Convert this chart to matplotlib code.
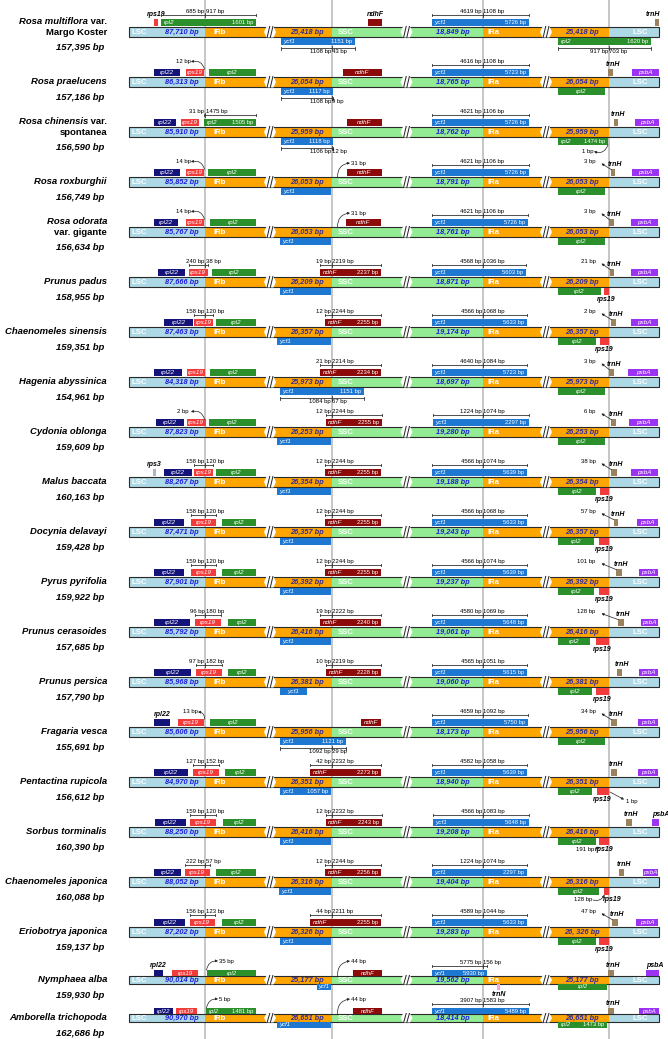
import matplotlib
matplotlib.use('Agg')
import matplotlib.pyplot as plt
from matplotlib.patches import Rectangle, Polygon

plt.rcParams['font.family'] = ['Liberation Sans', 'DejaVu Sans']

# ---------------- data ----------------
# species name lines: list of (text, italic) pieces
NAMES = [
    [[('Rosa multiflora', True), (' var.', False)], [('Margo Koster', False)]],
    [[('Rosa praelucens', True)]],
    [[('Rosa chinensis', True), (' var.', False)], [('spontanea', False)]],
    [[('Rosa roxburghii', True)]],
    [[('Rosa odorata', True)], [('var. gigante', False)]],
    [[('Prunus padus', True)]],
    [[('Chaenomeles sinensis', True)]],
    [[('Hagenia abyssinica', True)]],
    [[('Cydonia oblonga', True)]],
    [[('Malus baccata', True)]],
    [[('Docynia delavayi', True)]],
    [[('Pyrus pyrifolia', True)]],
    [[('Prunus cerasoides', True)]],
    [[('Prunus persica', True)]],
    [[('Fragaria vesca', True)]],
    [[('Pentactina rupicola', True)]],
    [[('Sorbus torminalis', True)]],
    [[('Chaenomeles japonica', True)]],
    [[('Eriobotrya japonica', True)]],
    [[('Nymphaea alba', True)]],
    [[('Amborella trichopoda', True)]],
]
GENOME_BP = [157395, 157186, 156590, 156749, 156634, 158955, 159351, 154961, 159609, 160163,
             159428, 159922, 157685, 157790, 155691, 156612, 160390, 160088, 159137, 159930, 162686]
LSC_BP = [87710, 86313, 85910, 85852, 85767, 87666, 87463, 84318, 87823, 88267,
          87471, 87901, 85792, 85968, 85606, 84970, 88250, 88052, 87202, 90014, 90970]
IR_BP = [25418, 26054, 25959, 26053, 26053, 26209, 26357, 25973, 26253, 26354,
         26357, 26392, 26416, 26381, 25956, 26351, 26416, 26316, 26326, 25177, 26651]
SSC_BP = [18849, 18765, 18762, 18791, 18761, 18871, 19174, 18697, 19280, 19188,
          19243, 19237, 19061, 19060, 18173, 18940, 19208, 19404, 19283, 19562, 18414]
IRA_TEXT = {18: '26, 326 bp'}

# genes per row: (gene, start, end, side, size text, label: i=inside a=above b=below)
GENES = [
    [('rps19', 154, 158, 'u', '', 'a'), ('rpl2', 161, 256, 'u', '1601 bp', 'i'), ('ndhF', 368, 382, 'u', '', 'a'),
     ('ycf1', 432, 529, 'u', '5726 bp', 'i'), ('trnH', 655, 659, 'u', '', 'a'),
     ('ycf1', 281, 355, 'd', '1151 bp', 'i'), ('rpl2', 558, 651, 'd', '1620 bp', 'i')],
    [('rpl22', 154, 180, 'u', '', 'i'), ('rps19', 186, 204, 'u', '', 'i'), ('rpl2', 209, 256, 'u', '', 'i'),
     ('ndhF', 343, 382, 'u', '', 'i'), ('ycf1', 432, 529, 'u', '5723 bp', 'i'), ('trnH', 608, 613, 'u', '', 'a'),
     ('psbA', 632, 659, 'u', '', 'i'), ('ycf1', 281, 333, 'd', '1117 bp', 'i'), ('rpl2', 558, 605, 'd', '', 'i')],
    [('rpl22', 154, 176, 'u', '', 'i'), ('rps19', 181, 199, 'u', '', 'i'), ('rpl2', 204, 256, 'u', '1505 bp', 'i'),
     ('ndhF', 347, 382, 'u', '', 'i'), ('ycf1', 432, 529, 'u', '5726 bp', 'i'), ('trnH', 614, 618, 'u', '', 'a'),
     ('psbA', 635, 659, 'u', '', 'i'), ('ycf1', 281, 333, 'd', '1118 bp', 'i'), ('rpl2', 558, 608, 'd', '1474 bp', 'i')],
    [('rpl22', 154, 180, 'u', '', 'i'), ('rps19', 186, 204, 'u', '', 'i'), ('rpl2', 208, 256, 'u', '', 'i'),
     ('ndhF', 347, 382, 'u', '', 'i'), ('ycf1', 432, 529, 'u', '5726 bp', 'i'), ('trnH', 611, 615, 'u', '', 'a'),
     ('psbA', 632, 659, 'u', '', 'i'), ('ycf1', 281, 331, 'd', '', 'i'), ('rpl2', 558, 605, 'd', '', 'i')],
    [('rpl22', 154, 178, 'u', '', 'i'), ('rps19', 186, 204, 'u', '', 'i'), ('rpl2', 210, 256, 'u', '', 'i'),
     ('ndhF', 346, 381, 'u', '', 'i'), ('ycf1', 432, 528, 'u', '5726 bp', 'i'), ('trnH', 609, 614, 'u', '', 'a'),
     ('psbA', 631, 658, 'u', '', 'i'), ('ycf1', 280, 331, 'd', '', 'i'), ('rpl2', 558, 605, 'd', '', 'i')],
    [('rpl22', 158, 185, 'u', '', 'i'), ('rps19', 189, 207.5, 'u', '', 'i'), ('rpl2', 212, 256, 'u', '', 'i'),
     ('ndhF', 320, 381, 'u', '2237 bp', 'i'), ('ycf1', 432, 526, 'u', '5603 bp', 'i'), ('trnH', 610, 614, 'u', '', 'a'),
     ('psbA', 631, 658, 'u', '', 'i'), ('ycf1', 280, 331, 'd', '', 'i'), ('rpl2', 558, 601, 'd', '', 'i'),
     ('rps19', 604, 608.5, 'd', '', 'b')],
    [('rpl22', 164, 193, 'u', '', 'i'), ('rps19', 194, 213, 'u', '', 'i'), ('rpl2', 216, 256, 'u', '', 'i'),
     ('ndhF', 325, 381, 'u', '2255 bp', 'i'), ('ycf1', 432, 527, 'u', '5633 bp', 'i'), ('trnH', 611, 616, 'u', '', 'a'),
     ('psbA', 631, 658, 'u', '', 'i'), ('ycf1', 277, 331, 'd', '', 'i'), ('rpl2', 558, 596, 'd', '', 'i'),
     ('rps19', 600, 608.5, 'd', '', 'b')],
    [('rpl22', 154, 182, 'u', '', 'i'), ('rps19', 187, 205, 'u', '', 'i'), ('rpl2', 210, 256, 'u', '', 'i'),
     ('ndhF', 320, 381, 'u', '2234 bp', 'i'), ('ycf1', 432, 527, 'u', '5723 bp', 'i'), ('trnH', 609, 614, 'u', '', 'a'),
     ('psbA', 628, 658, 'u', '', 'i'), ('ycf1', 280, 364, 'd', '1151 bp', 'i'), ('rpl2', 558, 605, 'd', '', 'i')],
    [('rpl22', 156, 184, 'u', '', 'i'), ('rps19', 186.5, 205.5, 'u', '', 'i'), ('rpl2', 209, 256, 'u', '', 'i'),
     ('ndhF', 325.5, 382, 'u', '2255 bp', 'i'), ('ycf1', 433, 529, 'u', '2297 bp', 'i'), ('trnH', 611, 616, 'u', '', 'a'),
     ('psbA', 629, 658, 'u', '', 'i'), ('ycf1', 277, 331, 'd', '', 'i'), ('rpl2', 558, 605, 'd', '', 'i')],
    [('rps3', 153, 155.5, 'u', '', 'a'), ('rpl22', 164, 192, 'u', '', 'i'), ('rps19', 194, 213, 'u', '', 'i'),
     ('rpl2', 216, 256, 'u', '', 'i'), ('ndhF', 325, 381, 'u', '2255 bp', 'i'), ('ycf1', 432, 527, 'u', '5639 bp', 'i'),
     ('trnH', 611, 617, 'u', '', 'a'), ('psbA', 631, 658, 'u', '', 'i'), ('ycf1', 277, 331, 'd', '', 'i'),
     ('rpl2', 558, 596, 'd', '', 'i'), ('rps19', 600, 608.5, 'd', '', 'b')],
    [('rpl22', 154, 184, 'u', '', 'i'), ('rps19', 191, 216, 'u', '', 'i'), ('rpl2', 221.5, 256, 'u', '', 'i'),
     ('ndhF', 325, 381, 'u', '2255 bp', 'i'), ('ycf1', 432, 527, 'u', '5633 bp', 'i'), ('trnH', 613.5, 618, 'u', '', 'a'),
     ('psbA', 637, 658, 'u', '', 'i'), ('ycf1', 280, 331, 'd', '', 'i'), ('rpl2', 558, 594, 'd', '', 'i'),
     ('rps19', 599, 608.5, 'd', '', 'b')],
    [('rpl22', 154, 184, 'u', '', 'i'), ('rps19', 191, 216, 'u', '', 'i'), ('rpl2', 221.5, 256, 'u', '', 'i'),
     ('ndhF', 325, 381, 'u', '2255 bp', 'i'), ('ycf1', 432, 527, 'u', '5639 bp', 'i'), ('trnH', 616, 622, 'u', '', 'a'),
     ('psbA', 639, 658, 'u', '', 'i'), ('ycf1', 280, 331, 'd', '', 'i'), ('rpl2', 558, 594, 'd', '', 'i'),
     ('rps19', 599, 608.5, 'd', '', 'b')],
    [('rpl22', 154, 190, 'u', '', 'i'), ('rps19', 195, 221, 'u', '', 'i'), ('rpl2', 228, 256, 'u', '', 'i'),
     ('ndhF', 320, 381, 'u', '2240 bp', 'i'), ('ycf1', 432, 527, 'u', '5648 bp', 'i'), ('trnH', 618, 624, 'u', '', 'a'),
     ('psbA', 641, 658, 'u', '', 'i'), ('ycf1', 280, 331, 'd', '', 'i'), ('rpl2', 558, 590, 'd', '', 'i'),
     ('rps19', 596, 608.5, 'd', '', 'b')],
    [('rpl22', 154, 191, 'u', '', 'i'), ('rps19', 196, 221.5, 'u', '', 'i'), ('rpl2', 228, 256, 'u', '', 'i'),
     ('ndhF', 326, 381, 'u', '2228 bp', 'i'), ('ycf1', 432, 527, 'u', '5615 bp', 'i'), ('trnH', 617, 622, 'u', '', 'a'),
     ('psbA', 639, 658, 'u', '', 'i'), ('ycf1', 280, 307, 'd', '', 'i'), ('rpl2', 558, 592, 'd', '', 'i'),
     ('rps19', 596, 609, 'd', '', 'b')],
    [('rpl22', 154, 170, 'u', '', 'a'), ('rps19', 178, 204, 'u', '', 'i'), ('rpl2', 210, 256, 'u', '', 'i'),
     ('ndhF', 361, 381, 'u', '', 'i'), ('ycf1', 432, 528, 'u', '5750 bp', 'i'), ('trnH', 611, 617, 'u', '', 'a'),
     ('psbA', 638, 658, 'u', '', 'i'), ('ycf1', 280, 346, 'd', '1121 bp', 'i'), ('rpl2', 558, 605, 'd', '', 'i')],
    [('rpl22', 154, 187.5, 'u', '', 'i'), ('rps19', 193, 219, 'u', '', 'i'), ('rpl2', 225, 256, 'u', '', 'i'),
     ('ndhF', 310, 381, 'u', '2273 bp', 'i'), ('ycf1', 432, 527, 'u', '5639 bp', 'i'), ('trnH', 611, 617, 'u', '', 'a'),
     ('psbA', 638, 658, 'u', '', 'i'), ('ycf1', 280, 331, 'd', '1057 bp', 'i'), ('rpl2', 558, 592, 'd', '', 'i'),
     ('rps19', 596.5, 608.5, 'd', '', 'b')],
    [('rpl22', 154.5, 185.5, 'u', '', 'i'), ('rps19', 190, 216, 'u', '', 'i'), ('rpl2', 223, 256, 'u', '', 'i'),
     ('ndhF', 325.5, 382, 'u', '2243 bp', 'i'), ('ycf1', 433, 529, 'u', '5648 bp', 'i'), ('trnH', 626, 632, 'u', '', 'a'),
     ('psbA', 652, 659, 'u', '', 'a'), ('ycf1', 280, 331, 'd', '', 'i'), ('rpl2', 558, 596, 'd', '', 'i'),
     ('rps19', 599, 608.5, 'd', '', 'b')],
    [('rpl22', 154, 181, 'u', '', 'i'), ('rps19', 184.5, 210, 'u', '', 'i'), ('rpl2', 216, 256, 'u', '', 'i'),
     ('ndhF', 325, 381, 'u', '2256 bp', 'i'), ('ycf1', 432, 527, 'u', '2297 bp', 'i'), ('trnH', 619, 624, 'u', '', 'a'),
     ('psbA', 643, 658, 'u', '', 'i'), ('ycf1', 279, 331, 'd', '', 'i'), ('rpl2', 558, 599, 'd', '', 'i'),
     ('rps19', 604, 608.5, 'd', '', 'r')],
    [('rpl22', 154, 185, 'u', '', 'i'), ('rps19', 189.5, 215, 'u', '', 'i'), ('rpl2', 221.5, 256, 'u', '', 'i'),
     ('ndhF', 310, 381, 'u', '2255 bp', 'i'), ('ycf1', 432, 527, 'u', '5633 bp', 'i'), ('trnH', 612, 618, 'u', '', 'a'),
     ('psbA', 636, 658, 'u', '', 'i'), ('ycf1', 280, 331, 'd', '', 'i'), ('rpl2', 558, 596, 'd', '', 'i'),
     ('rps19', 599, 608.5, 'd', '', 'b')],
    [('rpl22', 154, 163, 'u', '', 'a'), ('rps19', 172, 198, 'u', '', 'i'), ('rpl2', 207, 256, 'u', '', 'i'),
     ('ndhF', 353, 382, 'u', '', 'i'), ('ycf1', 432, 487, 'u', '5930 bp', 'i'), ('trnH', 608, 614, 'u', '', 'a'),
     ('psbA', 646, 659, 'u', '', 'a'), ('ycf1', 317, 331, 'd', '', 'i'), ('trnN', 497, 500, 'd', '', 'b'),
     ('rpl2', 558, 607, 'd', '', 'i')],
    [('rpl22', 154, 173, 'u', '', 'i'), ('rps19', 176, 197, 'u', '', 'i'), ('rpl2', 206, 256, 'u', '1481 bp', 'i'),
     ('ndhF', 353, 382, 'u', '', 'i'), ('ycf1', 432, 529, 'u', '5489 bp', 'i'), ('trnH', 608, 614, 'u', '', 'a'),
     ('psbA', 639, 659, 'u', '', 'i'), ('ycf1', 277, 331, 'd', '', 'i'), ('rpl2', 558, 607, 'd', '1473 bp', 'i')],
]

# distance brackets: (row, gene, side, left text, right text)
BRACKETS = [
    (0, 'rpl2', 'u', '685 bp', '917 bp'), (0, 'ycf1', 'd', '1108 bp', '43 bp'),
    (0, 'ycf1', 'u', '4619 bp', '1108 bp'), (0, 'rpl2', 'd', '917 bp', '703 bp'),
    (1, 'ycf1', 'd', '1108 bp', '9 bp'), (1, 'ycf1', 'u', '4616 bp', '1108 bp'),
    (2, 'rpl2', 'u', '31 bp', '1475 bp'), (2, 'ycf1', 'd', '1106 bp', '12 bp'),
    (2, 'ycf1', 'u', '4621 bp', '1106 bp'),
    (3, 'ycf1', 'u', '4621 bp', '1106 bp'),
    (4, 'ycf1', 'u', '4621 bp', '1106 bp'),
    (5, 'rps19', 'u', '240 bp', '38 bp'), (5, 'ndhF', 'u', '19 bp', '2219 bp'), (5, 'ycf1', 'u', '4568 bp', '1036 bp'),
    (6, 'rps19', 'u', '158 bp', '120 bp'), (6, 'ndhF', 'u', '12 bp', '2244 bp'), (6, 'ycf1', 'u', '4566 bp', '1068 bp'),
    (7, 'ycf1', 'd', '1084 bp', '67 bp'), (7, 'ndhF', 'u', '21 bp', '2214 bp'), (7, 'ycf1', 'u', '4640 bp', '1084 bp'),
    (8, 'ndhF', 'u', '12 bp', '2244 bp'), (8, 'ycf1', 'u', '1224 bp', '1074 bp'),
    (9, 'rps19', 'u', '158 bp', '120 bp'), (9, 'ndhF', 'u', '12 bp', '2244 bp'), (9, 'ycf1', 'u', '4566 bp', '1074 bp'),
    (10, 'rps19', 'u', '158 bp', '120 bp'), (10, 'ndhF', 'u', '12 bp', '2244 bp'), (10, 'ycf1', 'u', '4566 bp', '1068 bp'),
    (11, 'rps19', 'u', '159 bp', '120 bp'), (11, 'ndhF', 'u', '12 bp', '2244 bp'), (11, 'ycf1', 'u', '4566 bp', '1074 bp'),
    (12, 'rps19', 'u', '96 bp', '180 bp'), (12, 'ndhF', 'u', '19 bp', '2222 bp'), (12, 'ycf1', 'u', '4580 bp', '1069 bp'),
    (13, 'rps19', 'u', '97 bp', '182 bp'), (13, 'ndhF', 'u', '10 bp', '2219 bp'), (13, 'ycf1', 'u', '4565 bp', '1051 bp'),
    (14, 'ycf1', 'd', '1092 bp', '29 bp'), (14, 'ycf1', 'u', '4659 bp', '1092 bp'),
    (15, 'rps19', 'u', '127 bp', '152 bp'), (15, 'ndhF', 'u', '42 bp', '2232 bp'), (15, 'ycf1', 'u', '4582 bp', '1058 bp'),
    (16, 'rps19', 'u', '159 bp', '120 bp'), (16, 'ndhF', 'u', '12 bp', '2232 bp'), (16, 'ycf1', 'u', '4566 bp', '1083 bp'),
    (17, 'rps19', 'u', '222 bp', '57 bp'), (17, 'ndhF', 'u', '12 bp', '2244 bp'), (17, 'ycf1', 'u', '1224 bp', '1074 bp'),
    (18, 'rps19', 'u', '156 bp', '123 bp'), (18, 'ndhF', 'u', '44 bp', '2211 bp'), (18, 'ycf1', 'u', '4589 bp', '1044 bp'),
    (19, 'ycf1', 'u', '5775 bp', '156 bp'),
    (20, 'ycf1', 'u', '3907 bp', '1583 bp'),
]

# distance call-outs: (row, kind, text)
CALLOUTS = [
    (1, 'jlb', '12 bp'), (3, 'jlb', '14 bp'), (4, 'jlb', '14 bp'), (8, 'jlb', '2 bp'), (14, 'jlb', '13 bp'),
    (19, 'jlb_r', '35 bp'), (20, 'jlb_r', '5 bp'),
    (3, 'jsb', '31 bp'), (4, 'jsb', '31 bp'), (19, 'jsb', '44 bp'), (20, 'jsb', '44 bp'),
    (3, 'trnh', '3 bp'), (4, 'trnh', '3 bp'), (5, 'trnh', '21 bp'), (6, 'trnh', '2 bp'), (7, 'trnh', '3 bp'),
    (8, 'trnh', '6 bp'), (9, 'trnh', '38 bp'), (10, 'trnh', '57 bp'), (11, 'trnh', '101 bp'),
    (12, 'trnh', '128 bp'), (14, 'trnh', '34 bp'), (18, 'trnh', '47 bp'),
    (2, 'jla_dn', '1 bp'), (15, 'rps19_r', '1 bp'), (16, 'rps19_l', '191 bp'), (17, 'rps19_c', '128 bp'),
]

GENE_COLORS = {'rpl22': '#13137a', 'rps19': '#f23b3b', 'rpl2': '#2b8f2b', 'ndhF': '#8c0a0a',
               'ycf1': '#1e78d2', 'trnH': '#9b825f', 'psbA': '#9b33f2', 'rps3': '#a9b6c8',
               'trnN': '#f2a6e6'}
C_LSC, C_IR, C_SSC = '#add8e6', '#ffa500', '#93ec93'
C_LEN_SC, C_LEN_IR = '#1d1ddc', '#2f2a9c'

# ---------------- layout ----------------
X0, X_END = 129, 659
JLB, JSB, JSA, JLA = 205, 331.5, 482.5, 608.5
BREAKS = [(270, C_IR), (406.5, C_SSC), (546, C_IR)]
ROW_Y = [32 + 50 * i for i in range(19)] + [980, 1018]

fig = plt.figure(figsize=(6.68, 10.39), dpi=100)
ax = fig.add_axes([0, 0, 1, 1])
ax.set_xlim(0, 668)
ax.set_ylim(1039, 0)
ax.axis('off')
renderer = fig.canvas.get_renderer()

for xj in (JLB, JSB, JSA, JLA):
    ax.plot([xj, xj], [0, 1039], color='#c2c2c2', lw=1.3, zorder=1)

SMALL = 4.3


def geom(i):
    if i >= 19:
        return 7.5, 5.8, 0.3
    return 9.5, 7.0, 1.0


def box_top(i, side):
    y = ROW_Y[i]
    bh, gh, gap = geom(i)
    if side == 'u':
        return y - bh / 2 - gap - gh
    return y + bh / 2 + gap


def junction_in(x0, x1):
    for xj in (JLB, JSB, JSA, JLA):
        if x0 <= xj <= x1:
            return xj
    return (x0 + x1) / 2


for i, y in enumerate(ROW_Y):
    bh, gh, gap = geom(i)
    top = y - bh / 2

    # names
    lines = NAMES[i]
    name_y = [y] if len(lines) == 1 else [y - 10, y + 0.8]
    for line, ly in zip(lines, name_y):
        xr = 107
        for txt, ital in reversed(line):
            t = ax.text(xr, ly, txt, ha='right', va='center', fontsize=6.8, fontweight='bold',
                        style='italic' if ital else 'normal', zorder=6)
            xr -= t.get_window_extent(renderer).width
    ax.text(104, y + 15.5, f'{GENOME_BP[i]:,} bp', ha='right', va='center', fontsize=6.8,
            fontweight='bold', style='italic', zorder=6)

    # regions
    segs = [(X0, JLB, C_LSC), (JLB, JSB, C_IR), (JSB, JSA, C_SSC), (JSA, JLA, C_IR), (JLA, X_END, C_LSC)]
    for a, b, c in segs:
        ax.add_patch(Rectangle((a, top), b - a, bh, fc=c, ec='none', zorder=2))
    ax.add_patch(Rectangle((X0, top), X_END - X0, bh, fill=False, ec='#2a2a2a', lw=0.8, zorder=3))
    for xc, c in BREAKS:
        ax.add_patch(Polygon([(xc - 6, y), (xc - 3.5, top - 0.7), (xc + 3.5, top - 0.7), (xc + 6, y),
                              (xc + 3.5, top + bh + 0.7), (xc - 3.5, top + bh + 0.7)],
                             closed=True, fc='white', ec='none', zorder=4))
        for dx in (-1.6, 1.6):
            ax.plot([xc + dx - 1.3, xc + dx + 1.3], [top + bh + 0.8, top - 0.8], color='#222', lw=0.7, zorder=4.5)

    rk = dict(color='white', fontsize=5.6, fontweight='bold', va='center', zorder=6)
    ax.text(132, y, 'LSC', ha='left', **rk)
    ax.text(213, y, 'IRb', ha='left', **rk)
    ax.text(338, y, 'SSC', ha='left', **rk)
    ax.text(487, y, 'IRa', ha='left', **rk)
    ax.text(640, y, 'LSC', ha='center', **rk)
    lk = dict(fontsize=5.3, fontweight='bold', style='italic', va='center', ha='center', zorder=6)
    ax.text(182, y, f'{LSC_BP[i]:,} bp', color=C_LEN_SC, **lk)
    ax.text(307, y, f'{IR_BP[i]:,} bp', color=C_LEN_IR, **lk)
    ax.text(453, y, f'{SSC_BP[i]:,} bp', color=C_LEN_SC, **lk)
    ax.text(582, y, IRA_TEXT.get(i, f'{IR_BP[i]:,} bp'), color=C_LEN_IR, **lk)

    # genes
    fs_in = 4.6 if i < 19 else 4.3
    for g, a, b, side, size, lab in GENES[i]:
        bt = box_top(i, side)
        ax.add_patch(Rectangle((a, bt), b - a, gh, fc=GENE_COLORS[g], ec='none', zorder=5))
        yc = bt + gh / 2
        if lab == 'i':
            if size or (g == 'ycf1' and b - a > 40):
                ax.text(a + 2.5, yc, g, color='white', fontsize=fs_in, style='italic', ha='left', va='center', zorder=6)
                if size:
                    ax.text(b - 3, yc, size, color='white', fontsize=4.2, ha='right', va='center', zorder=6)
            else:
                ax.text((a + b) / 2, yc, g, color='white', fontsize=fs_in, style='italic', ha='center',
                        va='center', zorder=6)
        elif lab == 'a':
            ak_ = dict(fontsize=5, fontweight='bold', style='italic', va='bottom', zorder=6)
            if g == 'psbA':
                ax.text(a, bt - 1.5, g, ha='left', **ak_)
            elif b > 650:
                ax.text(b + 1, bt - 1.5, g, ha='right', **ak_)
            else:
                xc = (a + b) / 2 + (2 if g == 'trnH' else 0)
                ax.text(xc, bt - 1.5, g, ha='center', **ak_)
        elif lab in ('b', 'r'):
            xc = (a + b) / 2 + (6 if lab == 'r' else 0)
            ax.text(xc, bt + gh + 1, g, fontsize=5, fontweight='bold', style='italic', ha='center',
                    va='top', zorder=6)

# brackets
for i, g, side, lt, rt in BRACKETS:
    bh, gh, gap = geom(i)
    a, b = [(e[1], e[2]) for e in GENES[i] if e[0] == g and e[3] == side][0]
    xj = junction_in(a, b)
    if side == 'u':
        yl = box_top(i, 'u') - 4.3
    else:
        yl = box_top(i, 'd') + gh + 3.5
    kw = dict(color='#333333', lw=0.6, zorder=6)
    ax.plot([a, b], [yl, yl], **kw)
    for xx in (a, b):
        ax.plot([xx, xx], [yl - 1.3, yl + 1.3], **kw)
    ax.plot([xj, xj], [yl - 1.8, yl + 1.8], **kw)
    if side == 'u':
        ty, va = yl - 0.6, 'bottom'
    else:
        ty, va = yl + 1.0, 'top'
    ax.text(xj - 0.7, ty, lt, ha='right', va=va, fontsize=SMALL, zorder=6)
    ax.text(xj + 0.7, ty, rt, ha='left', va=va, fontsize=SMALL, zorder=6)

# call-outs
ak = dict(arrowstyle='-|>', color='#222222', lw=0.5, mutation_scale=3.5, shrinkA=0, shrinkB=0)
for i, kind, txt in CALLOUTS:
    y = ROW_Y[i]
    bh, gh, gap = geom(i)
    up_top = box_top(i, 'u')
    if kind == 'jlb':
        xt = 190 if i == 14 else 183
        ax.text(xt, y - 20, txt, ha='center', va='center', fontsize=SMALL, zorder=6)
        ax.annotate('', xy=(xt + 8, y - 20), xytext=(JLB - 0.5, up_top),
                    arrowprops=dict(connectionstyle='arc3,rad=0.5', **ak), zorder=6)
    elif kind in ('jlb_r', 'jsb'):
        x_from = JLB + 1.5 if kind == 'jlb_r' else JSB + 6
        y_from = up_top if kind == 'jlb_r' else y - bh / 2
        xt = 219 if kind == 'jlb_r' else 351
        ax.text(xt, y - 19, txt, ha='left', va='center', fontsize=SMALL, zorder=6)
        ax.annotate('', xy=(xt - 1, y - 19), xytext=(x_from, y_from),
                    arrowprops=dict(connectionstyle='arc3,rad=-0.45', **ak), zorder=6)
    elif kind == 'trnh':
        tx0 = [e[1] for e in GENES[i] if e[0] == 'trnH'][0]
        ax.text(JLA - 13, y - 20.5, txt, ha='right', va='center', fontsize=SMALL, zorder=6)
        ax.annotate('', xy=(JLA - 7, y - 18.5), xytext=(tx0 + 0.5, up_top + 0.5),
                    arrowprops=dict(**ak), zorder=6)
    elif kind == 'jla_dn':
        ax.text(588, y + 20, txt, ha='center', va='center', fontsize=SMALL, zorder=6)
        ax.annotate('', xy=(594, y + 19.5), xytext=(JLA - 0.5, box_top(i, 'd') + gh),
                    arrowprops=dict(connectionstyle='arc3,rad=-0.5', **ak), zorder=6)
    elif kind == 'rps19_r':
        ax.text(626, y + 19, txt, ha='left', va='center', fontsize=SMALL, zorder=6)
        ax.annotate('', xy=(624, y + 17.5), xytext=(610, y + 10),
                    arrowprops=dict(**ak), zorder=6)
    elif kind == 'rps19_l':
        ax.text(594, y + 17, txt, ha='right', va='center', fontsize=SMALL, zorder=6)
        ax.annotate('', xy=(600, y + 15), xytext=(595, y + 17),
                    arrowprops=dict(**ak), zorder=6)
    elif kind == 'rps19_c':
        ax.text(592, y + 18, txt, ha='right', va='center', fontsize=SMALL, zorder=6)
        ax.annotate('', xy=(604.5, box_top(i, 'd') + gh), xytext=(593, y + 18),
                    arrowprops=dict(connectionstyle='arc3,rad=0.4', **ak), zorder=6)

fig.savefig('out.png', dpi=100)
